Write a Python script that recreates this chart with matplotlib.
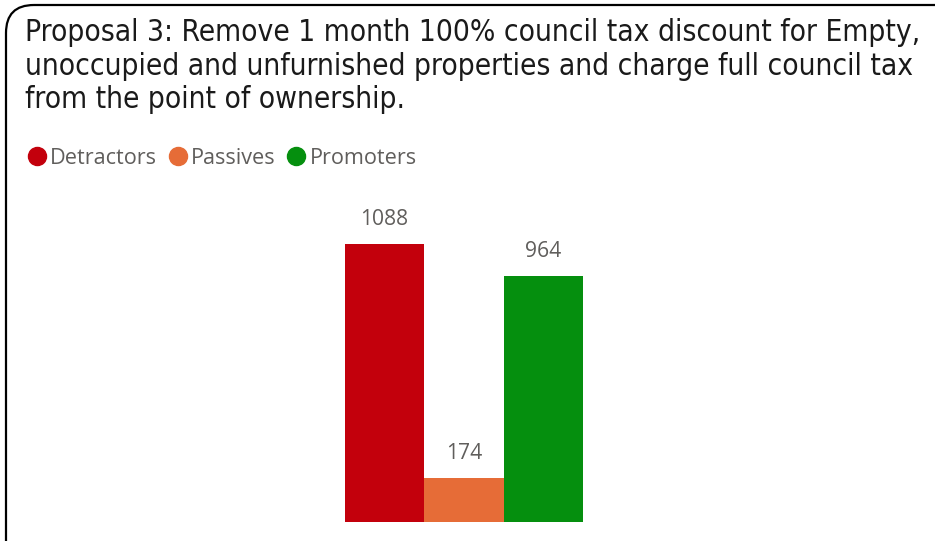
import matplotlib.pyplot as plt
from matplotlib.patches import FancyBboxPatch
from matplotlib.lines import Line2D

categories = ["Detractors", "Passives", "Promoters"]
values = [1088, 174, 964]
colors = ["#C3000C", "#E66C37", "#058F0E"]
title = ("Proposal 3: Remove 1 month 100% council tax discount for Empty,\n"
         "unoccupied and unfurnished properties and charge full council tax\n"
         "from the point of ownership.")

W, H = 935, 541
fig = plt.figure(figsize=(W / 100, H / 100), dpi=100)

# background axes in pixel units for border / title
bg = fig.add_axes([0, 0, 1, 1])
bg.set_xlim(0, W)
bg.set_ylim(H, 0)
bg.axis("off")
bg.add_patch(FancyBboxPatch((6, 5), 980, 580, boxstyle="round,pad=0,rounding_size=28",
                            fill=False, ec="black", lw=1.6))
bg.text(25, 18, title, fontsize=21.4, family="DejaVu Sans", fontstretch="condensed",
        color="#1a1a1a", va="top", ha="left", linespacing=1.2)

handles = [Line2D([], [], marker="o", ls="none", ms=13, color=c) for c in colors]
leg = fig.legend(handles, categories, loc="upper left", bbox_to_anchor=(17 / W, 1 - 139 / H),
                 ncol=3, frameon=False, handletextpad=0.12, columnspacing=0.45,
                 borderaxespad=0, handlelength=1.0, prop={"family": "Open Sans", "size": 15.6})
for t in leg.get_texts():
    t.set_color("#605E5C")

# bar axes: x from 345 to 583 px, baseline at 522 px
px_per_unit = 278 / 1088
ymax = 1200
ax = fig.add_axes([345 / W, 19 / H, 238 / W, ymax * px_per_unit / H])
x = range(len(values))
ax.bar(x, values, width=1.0, color=colors)
ax.set_xlim(-0.5, 2.5)
ax.set_ylim(0, ymax)
ax.axis("off")
for xi, v in zip(x, values):
    ax.annotate(str(v), (xi, v), xytext=(0, 17.5), textcoords="offset points",
                ha="center", va="center", fontsize=15.2, family="Open Sans", color="#605E5C")

fig.savefig("out.png", dpi=100)
